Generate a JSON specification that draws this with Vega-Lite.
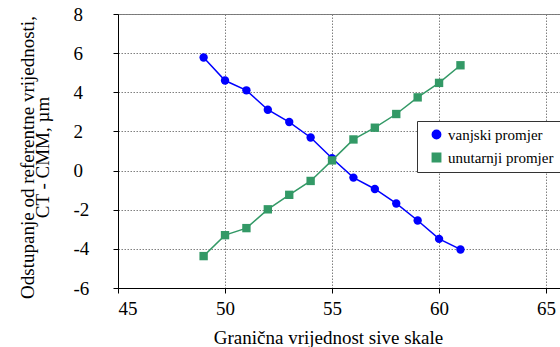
{
  "$schema": "https://vega.github.io/schema/vega-lite/v6.json",
  "width": 442,
  "height": 274,
  "autosize": {"type": "none"},
  "padding": {"left": 118, "top": 14, "right": 0, "bottom": 59},
  "background": "white",
  "config": {
    "font": "Liberation Serif",
    "view": {"stroke": "#777777", "strokeWidth": 1},
    "axis": {
      "labelColor": "black",
      "titleColor": "black",
      "titleFontWeight": "normal",
      "domainColor": "black",
      "domainWidth": 1,
      "tickColor": "black",
      "tickSize": 5,
      "gridColor": "#808080",
      "gridDash": [1.5, 1.5],
      "gridWidth": 1
    }
  },
  "data": {
    "values": [
      {"x": 49, "y": 5.78, "series": "vanjski promjer"},
      {"x": 50, "y": 4.6, "series": "vanjski promjer"},
      {"x": 51, "y": 4.1, "series": "vanjski promjer"},
      {"x": 52, "y": 3.11, "series": "vanjski promjer"},
      {"x": 53, "y": 2.48, "series": "vanjski promjer"},
      {"x": 54, "y": 1.69, "series": "vanjski promjer"},
      {"x": 55, "y": 0.63, "series": "vanjski promjer"},
      {"x": 56, "y": -0.36, "series": "vanjski promjer"},
      {"x": 57, "y": -0.94, "series": "vanjski promjer"},
      {"x": 58, "y": -1.68, "series": "vanjski promjer"},
      {"x": 59, "y": -2.55, "series": "vanjski promjer"},
      {"x": 60, "y": -3.49, "series": "vanjski promjer"},
      {"x": 61, "y": -4.03, "series": "vanjski promjer"},
      {"x": 49, "y": -4.37, "series": "unutarnji promjer"},
      {"x": 50, "y": -3.3, "series": "unutarnji promjer"},
      {"x": 51, "y": -2.94, "series": "unutarnji promjer"},
      {"x": 52, "y": -1.98, "series": "unutarnji promjer"},
      {"x": 53, "y": -1.24, "series": "unutarnji promjer"},
      {"x": 54, "y": -0.53, "series": "unutarnji promjer"},
      {"x": 55, "y": 0.52, "series": "unutarnji promjer"},
      {"x": 56, "y": 1.59, "series": "unutarnji promjer"},
      {"x": 57, "y": 2.19, "series": "unutarnji promjer"},
      {"x": 58, "y": 2.89, "series": "unutarnji promjer"},
      {"x": 59, "y": 3.74, "series": "unutarnji promjer"},
      {"x": 60, "y": 4.48, "series": "unutarnji promjer"},
      {"x": 61, "y": 5.38, "series": "unutarnji promjer"}
    ]
  },
  "encoding": {
    "x": {
      "field": "x",
      "type": "quantitative",
      "scale": {"domain": [45, 65.65], "nice": false, "zero": false},
      "axis": {
        "values": [45, 50, 55, 60, 65],
        "labelExpr": "'' + datum.value",
        "labelFont": "Liberation Serif",
        "labelFontSize": 19,
        "labelPadding": 6,
        "title": "Granična vrijednost sive skale",
        "titleFont": "Liberation Serif",
        "titleFontSize": 19,
        "titleX": 210,
        "titleY": 55,
        "titleBaseline": "alphabetic",
        "titleAlign": "center"
      }
    },
    "y": {
      "field": "y",
      "type": "quantitative",
      "scale": {"domain": [-6, 8], "nice": false, "zero": false},
      "axis": {
        "values": [-6, -4, -2, 0, 2, 4, 6, 8],
        "labelExpr": "'' + datum.value",
        "labelFont": "Liberation Serif",
        "labelFontSize": 19,
        "labelAlign": "left",
        "labelPadding": 40,
        "title": ["Odstupanje od referentne vrijednosti,", "CT - CMM, µm"],
        "titleFont": "Liberation Serif",
        "titleFontSize": 19,
        "titleAngle": -90,
        "titleX": -85,
        "titleY": 143,
        "titleAlign": "center",
        "titleBaseline": "alphabetic",
        "titleLineHeight": 15
      }
    },
    "color": {
      "field": "series",
      "type": "nominal",
      "scale": {"domain": ["vanjski promjer", "unutarnji promjer"], "range": ["#0000ff", "#339966"]},
      "legend": {
        "title": null,
        "orient": "none",
        "legendX": 299,
        "legendY": 107,
        "direction": "vertical",
        "fillColor": "white",
        "strokeColor": "#333333",
        "padding": 6,
        "labelFont": "Liberation Serif",
        "labelFontSize": 15,
        "labelColor": "black",
        "labelOffset": 4,
        "symbolOffset": 6,
        "symbolSize": 70,
        "rowPadding": 7
      }
    }
  },
  "layer": [
    {
      "mark": {"type": "line", "strokeWidth": 1.5},
      "encoding": {"detail": {"field": "series", "type": "nominal"}}
    },
    {
      "mark": {"type": "point", "filled": true, "opacity": 1, "size": 70},
      "encoding": {
        "shape": {
          "field": "series",
          "type": "nominal",
          "scale": {"domain": ["vanjski promjer", "unutarnji promjer"], "range": ["circle", "square"]},
          "legend": null
        }
      }
    }
  ]
}
